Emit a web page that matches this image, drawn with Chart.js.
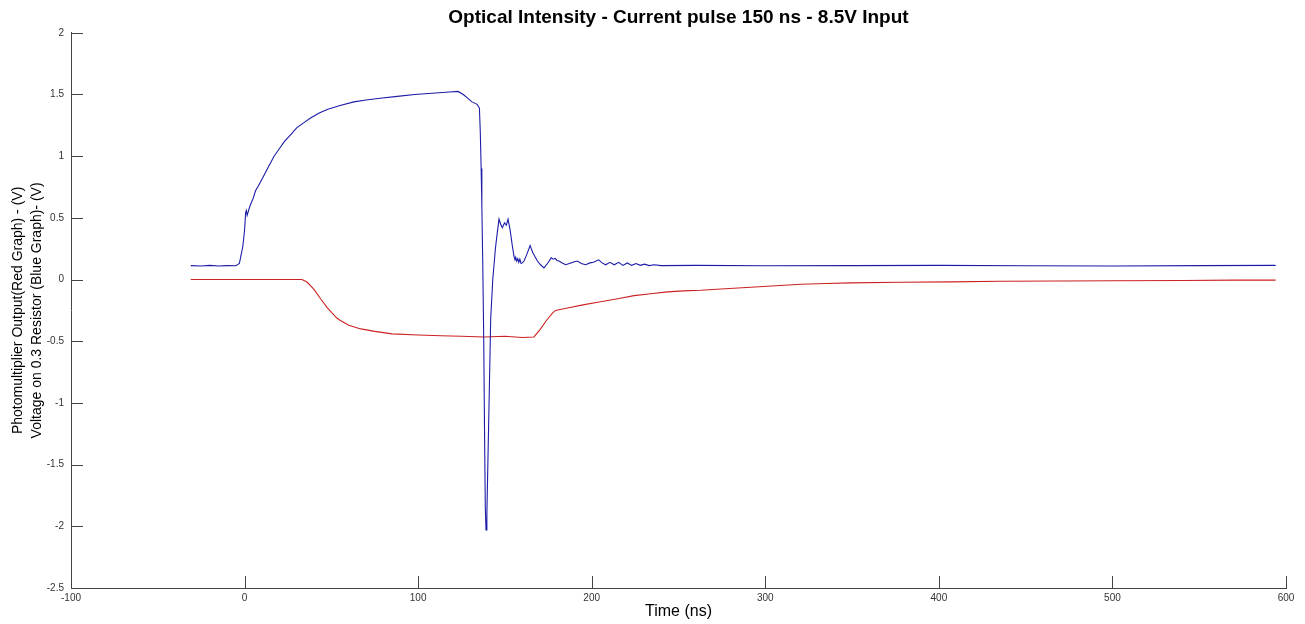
<!DOCTYPE html>
<html>
<head>
<meta charset="utf-8">
<script src="https://cdn.jsdelivr.net/npm/chart.js@4/dist/chart.umd.min.js"></script>
<style>
  html, body { margin: 0; padding: 0; background: #ffffff; }
  #wrap { width: 1305px; height: 624px; }
</style>
</head>
<body>
<div id="wrap"><canvas id="scope"></canvas></div>
<script>
// Voltage across the 0.3 ohm resistor (blue trace), time in ns / volts
const blueTime = [
  -31, -25, -20, -15, -10, -5, -3, -2, -1, 0, 0.6, 1, 1.5, 2.5, 3.5, 5, 6.3, 8, 11, 14,
  17, 20, 23, 27, 30, 34, 38, 43, 48, 55, 63, 70, 78, 88, 98, 108, 118, 123, 126, 128.5,
  131, 134, 135.3, 135.8, 136.3, 136.7, 137.2, 137.8, 138.3, 138.7, 139.1, 139.6, 140.3, 141, 141.8, 143, 144.5, 145.6, 146.6, 147.5,
  148.5, 149.8, 150.8, 151.8, 153, 154.3, 155.2, 155.8, 156.2, 156.8, 157.4, 158, 158.6, 159.3, 160, 161, 162.5, 164.5, 166, 168.7,
  170.5, 172.5, 174.5, 176.7, 177.8, 179, 180, 181.2, 183, 185, 188, 190, 191.7, 194, 196.5, 199, 201, 204, 206, 208,
  210.5, 213, 215.5, 218, 220.5, 223, 225.5, 228, 230.5, 233, 236, 240, 260, 300, 350, 400, 450, 500, 550, 594
];
const blueVolt = [
  0.113, 0.11, 0.115, 0.11, 0.113, 0.112, 0.13, 0.2, 0.27, 0.4, 0.54, 0.56, 0.52, 0.57, 0.61, 0.66, 0.72, 0.76, 0.84, 0.92,
  1.0, 1.06, 1.12, 1.18, 1.23, 1.27, 1.31, 1.35, 1.38, 1.41, 1.44, 1.455, 1.47, 1.485, 1.5, 1.51, 1.52, 1.525, 1.5, 1.47,
  1.44, 1.42, 1.39, 1.2, 0.9, 0.6, 0.16, -0.5, -1.3, -1.85, -2.03, -1.9, -1.4, -0.9, -0.32, 0.0, 0.25, 0.38, 0.49, 0.45,
  0.42, 0.46, 0.44, 0.49, 0.4, 0.27, 0.19, 0.16, 0.18, 0.15, 0.17, 0.14, 0.165, 0.13, 0.135, 0.15, 0.2, 0.275, 0.22, 0.15,
  0.12, 0.095, 0.13, 0.176, 0.165, 0.172, 0.155, 0.15, 0.135, 0.12, 0.135, 0.145, 0.15, 0.13, 0.12, 0.135, 0.14, 0.16, 0.135, 0.12,
  0.14, 0.12, 0.14, 0.115, 0.135, 0.115, 0.13, 0.115, 0.125, 0.113, 0.12, 0.113, 0.115, 0.112, 0.113, 0.115, 0.112, 0.11, 0.113, 0.115
];

// Photomultiplier output (red trace)
const redTime = [
  -31, 0, 20, 33, 36, 40, 44, 47.7, 53, 55, 60, 67, 75, 85, 100, 113, 125, 138, 150, 160,
  166.7, 170, 174, 177.5, 179.2, 186, 195, 205, 215, 224.4, 234, 243.6, 253, 262.8, 277, 291.6, 306, 320.5, 335, 349,
  378, 407, 435.7, 470, 500, 540, 570, 594
];
const redVolt = [
  0, 0, 0, 0, -0.02, -0.08, -0.16, -0.23, -0.31, -0.33, -0.37, -0.4, -0.42, -0.44, -0.45, -0.455, -0.46, -0.465, -0.46, -0.47,
  -0.465, -0.41, -0.33, -0.27, -0.25, -0.23, -0.205, -0.18, -0.155, -0.13, -0.115, -0.1, -0.092, -0.087, -0.075, -0.062, -0.05, -0.038, -0.032, -0.027,
  -0.022, -0.019, -0.014, -0.012, -0.01, -0.008, -0.005, -0.005
];

// Axis ranges and tick spacing
const timeTicks = [-100, 0, 100, 200, 300, 400, 500, 600];
const voltTicks = [-2.5, -2, -1.5, -1, -0.5, 0, 0.5, 1, 1.5, 2];

const pairs = (xs, ys) => xs.map((x, i) => ({ x: x, y: ys[i] }));

const axisColor = '#444444';
const family = "'Liberation Sans', Arial, sans-serif";
const tickFont = { family: family, size: 10 };

// Tick marks pointing into the plot area, as on a scope plot
const innerTicks = {
  id: 'innerTicks',
  afterDraw(chart) {
    const { ctx, chartArea, scales } = chart;
    ctx.save();
    ctx.strokeStyle = axisColor;
    ctx.lineWidth = 1;
    ctx.beginPath();
    scales.x.ticks.forEach(t => {
      const px = Math.round(scales.x.getPixelForValue(t.value)) + 0.5;
      ctx.moveTo(px, chartArea.bottom);
      ctx.lineTo(px, chartArea.bottom - 12);
    });
    scales.y.ticks.forEach(t => {
      const py = Math.round(scales.y.getPixelForValue(t.value)) + 0.5;
      ctx.moveTo(chartArea.left, py);
      ctx.lineTo(chartArea.left + 12, py);
    });
    ctx.stroke();
    ctx.restore();
  }
};

new Chart(document.getElementById('scope'), {
  type: 'line',
  data: {
    datasets: [
      {
        label: 'Voltage on 0.3 Resistor',
        data: pairs(blueTime, blueVolt),
        borderColor: '#1c1ca8',
        borderWidth: 1.1,
        pointRadius: 0,
        tension: 0,
        fill: false
      },
      {
        label: 'Photomultiplier Output',
        data: pairs(redTime, redVolt),
        borderColor: '#cc2222',
        borderWidth: 1.1,
        pointRadius: 0,
        tension: 0,
        fill: false
      }
    ]
  },
  plugins: [innerTicks],
  options: {
    responsive: true,
    maintainAspectRatio: false,
    animation: false,
    layout: { padding: { left: 0, right: 19, top: 0, bottom: 0 } },
    plugins: {
      legend: { display: false },
      tooltip: { enabled: false },
      title: {
        display: true,
        text: 'Optical Intensity - Current pulse 150 ns - 8.5V Input',
        fullSize: false,
        color: '#000000',
        font: { family: family, size: 19, weight: 'bold', lineHeight: 1.2 },
        padding: { top: 6, bottom: 4 }
      }
    },
    scales: {
      x: {
        type: 'linear',
        min: -100,
        max: 600,
        afterBuildTicks(scale) { scale.ticks = timeTicks.map(v => ({ value: v })); },
        afterFit(scale) { scale.height = 36; },
        grid: { display: true, drawOnChartArea: false, drawTicks: false },
        border: { display: true, color: axisColor, width: 1 },
        ticks: { color: '#333333', font: tickFont, padding: 4, maxRotation: 0, autoSkip: false,
                 callback: v => String(v) },
        title: {
          display: true,
          text: 'Time (ns)',
          color: '#000000',
          font: { family: family, size: 16, lineHeight: 1.2 },
          padding: { top: 0, bottom: 2.4 }
        }
      },
      y: {
        type: 'linear',
        min: -2.5,
        max: 2,
        afterBuildTicks(scale) { scale.ticks = voltTicks.map(v => ({ value: v })); },
        afterFit(scale) { scale.width = 71; },
        grid: { display: true, drawOnChartArea: false, drawTicks: false },
        border: { display: true, color: axisColor, width: 1 },
        ticks: { color: '#333333', font: tickFont, padding: 7, autoSkip: false,
                 callback: v => String(v) },
        title: {
          display: true,
          text: ['Photomultiplier Output(Red Graph) - (V)', 'Voltage on 0.3 Resistor (Blue Graph)- (V)'],
          color: '#000000',
          font: { family: family, size: 14, lineHeight: 1.35 },
          padding: { top: 8.5, bottom: 0 }
        }
      }
    }
  }
});
</script>
</body>
</html>
